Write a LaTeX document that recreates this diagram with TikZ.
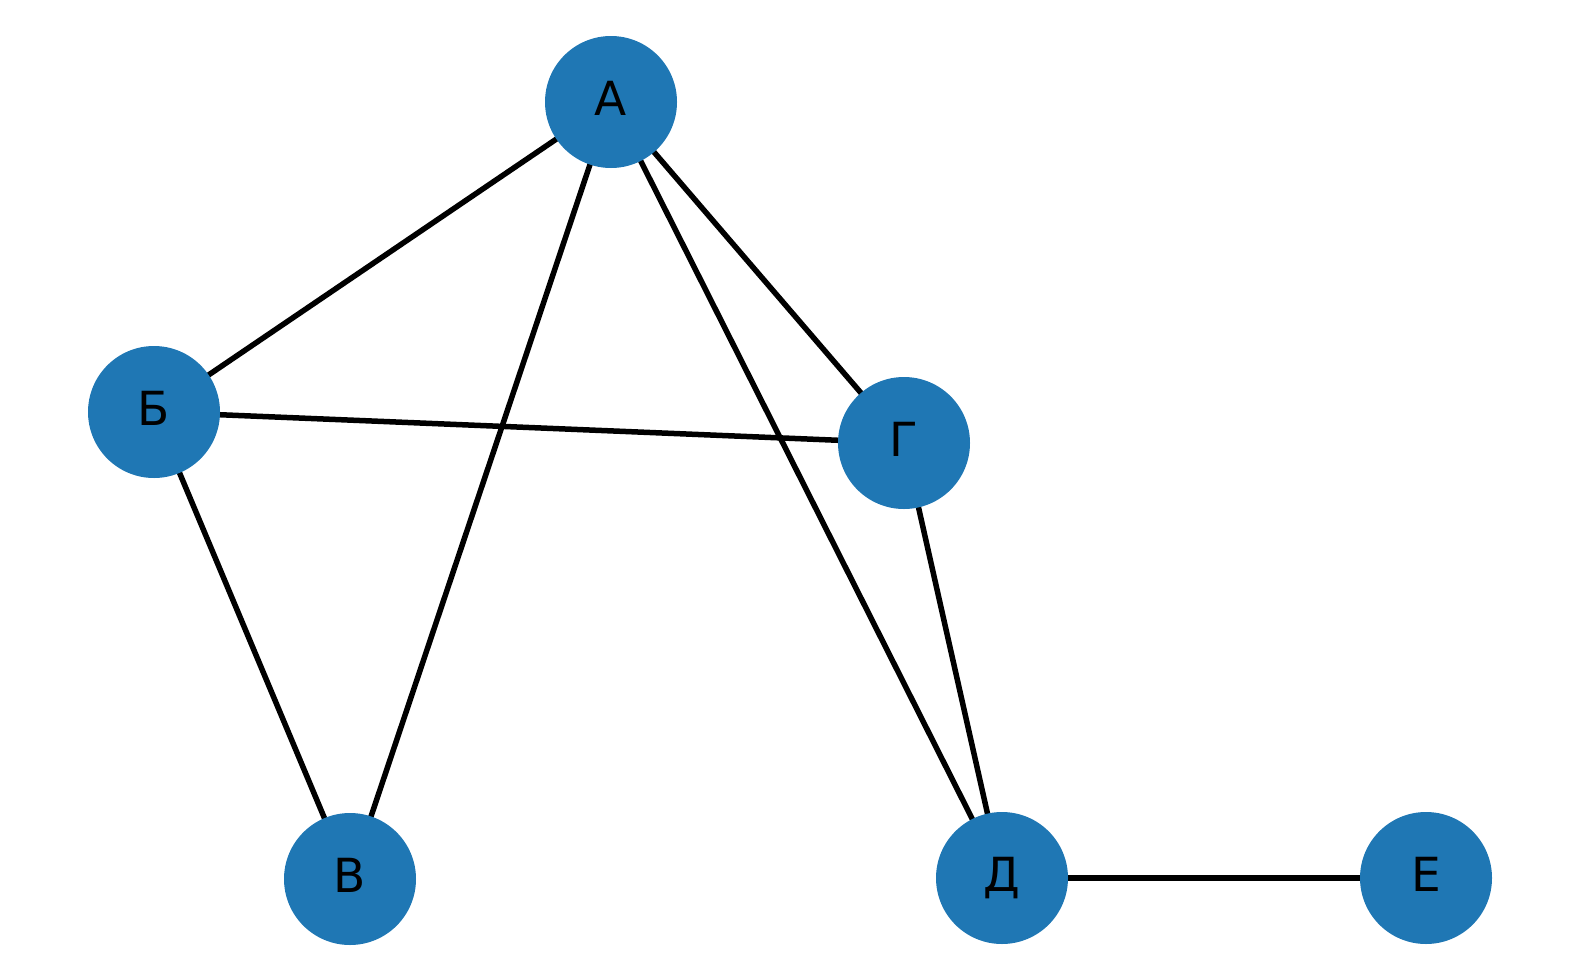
\documentclass[tikz,border=0pt]{standalone}
\usepackage{fontspec}
\usepackage{xcolor}
\usepackage{tikz}
\usetikzlibrary{backgrounds}
\newfontfamily\cyrfont{DejaVu Sans}
\definecolor{nxblue}{HTML}{1F77B4}

\begin{document}
\begin{tikzpicture}[x=1pt, y=-1pt,
  vertex/.style={circle, fill=nxblue, minimum size=132pt, inner sep=0pt, text height=34pt, text depth=8pt, font=\cyrfont\fontsize{47}{56}\selectfont},
  edge/.style={line width=5.5pt, black}]

\useasboundingbox (0,0) rectangle (1580,980);

\node(a)[vertex] at (611,102){А};
\node(b)[vertex] at (154,412){Б};
\node(v)[vertex] at (350,879){В};
\node(g)[vertex] at (904,443){Г};
\node(d)[vertex] at (1002,878){Д};
\node(e)[vertex] at (1426,878){Е};

\begin{pgfonlayer}{background}
\foreach \x/\y in {a/b, a/v, a/g, a/d, b/g, b/v, g/d, d/e}
	\draw[edge](\x.center)--(\y.center);
\end{pgfonlayer}

\end{tikzpicture}
\end{document}
